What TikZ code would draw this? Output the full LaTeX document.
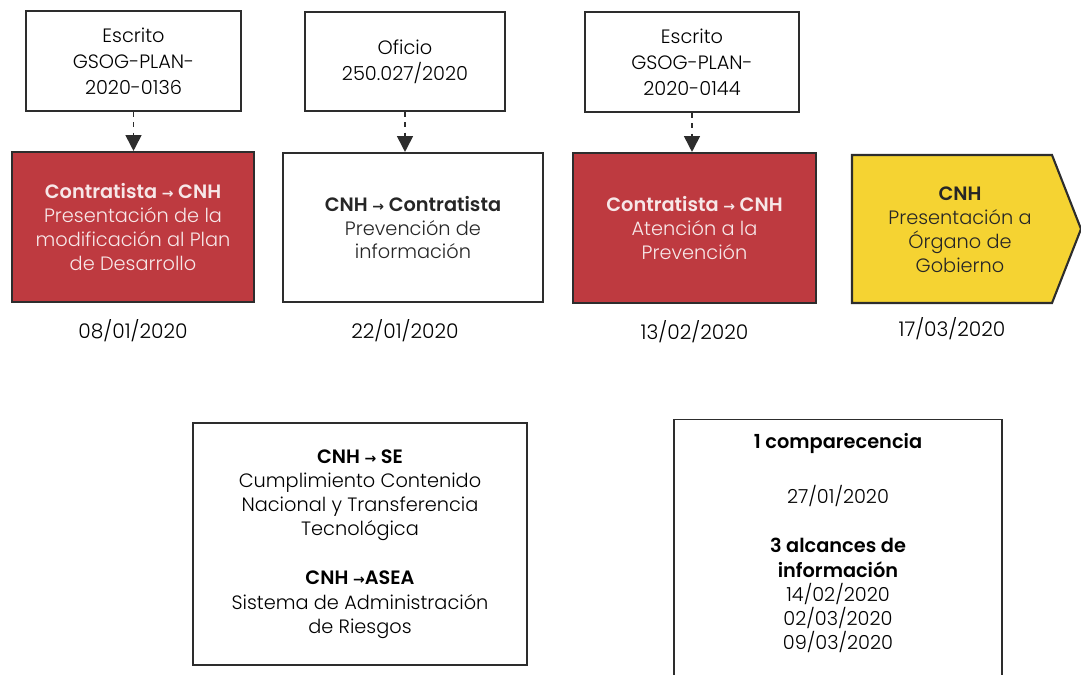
\documentclass[tikz,border=0pt]{standalone}
\usepackage{fontspec}
\setmainfont{Poppins}[UprightFont={* Light}, BoldFont={* SemiBold}]
\newfontfamily\arrowfont{DejaVu Sans}
\usetikzlibrary{arrows.meta}
\usetikzlibrary{positioning}
\definecolor{cnhred}{RGB}{190,58,64}
\definecolor{cnhyellow}{RGB}{245,211,50}
\definecolor{linegray}{RGB}{45,45,45}
\newcommand\flecha{{\arrowfont\footnotesize →}}
\tikzset{
  oficio/.style={draw=linegray, line width=0.7pt, fill=white, align=center, font=\fontsize{11}{14.8}\selectfont, inner sep=0pt},
  etapa/.style={draw=linegray, line width=1.2pt, align=center, font=\fontsize{11}{13.6}\selectfont, inner sep=0pt},
  nota/.style={draw=linegray, line width=0.7pt, align=center, font=\fontsize{11}{13.8}\selectfont, inner sep=0pt},
  fecha/.style={font=\fontsize{11.5}{14}\selectfont, inner sep=0pt},
  liga/.style={dashed, line width=1pt, draw=linegray, -{Triangle[length=9pt,width=9pt]}}
}
\begin{document}
\begin{tikzpicture}[x=0.02cm, y=-0.02cm]
    \useasboundingbox (0,0) rectangle (1081,674);
    %% oficios
    \node[oficio, minimum width=4.3cm, minimum height=2cm] (of1) at (133.5,61) {Escrito\\GSOG-PLAN-\\2020-0136};
    \node[oficio, minimum width=4cm, minimum height=1.98cm] (of2) at (405,61.5) {Oficio\\250.027/2020};
    \node[oficio, minimum width=4.28cm, minimum height=2cm] (of3) at (692,62) {Escrito\\GSOG-PLAN-\\2020-0144};
    %% etapas
    \node[etapa, fill=cnhred, text=white!88!cnhred, minimum width=4.84cm, minimum height=3cm] (presenta) at (133,227)
        {\textbf{Contratista \flecha{} CNH}\\Presentación de la\\modificación al Plan\\de Desarrollo};
    \node[etapa, fill=white, text=black!85, minimum width=5.2cm, minimum height=2.98cm] (previene) at (413,227.5)
        {\textbf{CNH \flecha{} Contratista}\\Prevención de\\información};
    \node[etapa, fill=cnhred, text=white!88!cnhred, minimum width=4.86cm, minimum height=3cm] (atiende) at (694.5,228)
        {\textbf{Contratista \flecha{} CNH}\\Atención a la\\Prevención};
    %% -- pentagono del organo de gobierno
    \filldraw[fill=cnhyellow, draw=linegray, line width=1.2pt]
        (852,155) -- (1052,155) -- (1081,229) -- (1052,303) -- (852,303) -- cycle;
    \node[align=center, text=black!85, font=\fontsize{11}{13.6}\selectfont, inner sep=0pt] (organo) at (960,230)
        {\textbf{CNH}\\Presentación a\\Órgano de\\Gobierno};
    %% -- ligas de los oficios
    \draw[liga] (of1) -- (presenta.north -| of1.south);
    \draw[liga] (of2) -- (previene.north -| of2.south);
    \draw[liga] (of3) -- (atiende.north -| of3.south);
    %% fechas
    \node[fecha, below=9pt of presenta] (f1) {08/01/2020};
    \node[fecha, below=9pt of previene.south -| of2] (f2) {22/01/2020};
    \node[fecha, below=9pt of atiende] (f3) {13/02/2020};
    \node[fecha] (f4) at (952,329) {17/03/2020};
    %% notas
    \node[nota, minimum width=6.68cm, minimum height=4.84cm] (autoridades) at (360,544)
        {\textbf{CNH \flecha{} SE}\\Cumplimiento Contenido\\Nacional y Transferencia\\Tecnológica\\[14pt]
         \textbf{CNH \flecha{}ASEA}\\Sistema de Administración\\de Riesgos};
    \node[nota, minimum width=6.56cm, minimum height=5.4cm, anchor=north] (alcances) at (838,419) {};
    \node[font=\fontsize{11}{13.8}\selectfont, align=center, inner sep=0pt] (comparece) at (838,443) {\textbf{1 comparecencia}};
    \node[font=\fontsize{11}{13.8}\selectfont, align=center, inner sep=0pt] (fcomp) at (838,496) {27/01/2020};
    \node[font=\fontsize{11}{13.8}\selectfont, align=center, inner sep=0pt, anchor=north] (alc) at (838,538)
        {\textbf{3 alcances de}\\\textbf{información}\\14/02/2020\\02/03/2020\\09/03/2020};
\end{tikzpicture}
\end{document}
